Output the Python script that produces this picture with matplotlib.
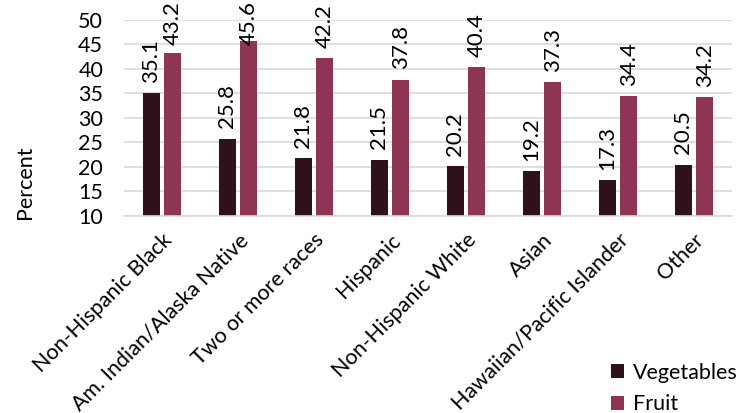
import numpy as np
import matplotlib.pyplot as plt

plt.rcParams['font.family'] = ['Lato', 'DejaVu Sans']

categories = ['Non-Hispanic Black', 'Am. Indian/Alaska Native', 'Two or more races',
              'Hispanic', 'Non-Hispanic White', 'Asian', 'Hawaiian/Pacific Islander', 'Other']
vegetables = [35.1, 25.8, 21.8, 21.5, 20.2, 19.2, 17.3, 20.5]
fruit = [43.2, 45.6, 42.2, 37.8, 40.4, 37.3, 34.4, 34.2]

veg_color = '#2E1119'
fruit_color = '#8E3556'

fig = plt.figure(figsize=(7.56, 4.13), dpi=100)
ax = fig.add_axes([0.164, 0.477, 0.804, 0.475])

x = np.arange(len(categories))
w = 0.224
off = 0.142
b1 = ax.bar(x - off, vegetables, w, bottom=0, color=veg_color, label='Vegetables')
b2 = ax.bar(x + off, fruit, w, bottom=0, color=fruit_color, label='Fruit')

# value labels above bars; pushed down when they would run off the top
for bars, vals in ((b1, vegetables), (b2, fruit)):
    for rect, v in zip(bars, vals):
        ax.text(rect.get_x() + rect.get_width() / 2, min(v + 2.1, 44.9), f'{v:.1f}',
                rotation=90, ha='center', va='bottom', fontsize=16, color='#000000',
                clip_on=False)

ax.set_ylim(10, 50)
ax.set_xlim(-0.5, len(categories) - 0.5)
ax.set_yticks(range(10, 51, 5))
ax.yaxis.grid(True, color='#D9D9D9', lw=1.2)
ax.set_axisbelow(True)
for s in ['top', 'right', 'left']:
    ax.spines[s].set_visible(False)
ax.spines['bottom'].set_color('#D9D9D9')
ax.spines['bottom'].set_linewidth(1.2)
ax.tick_params(axis='y', length=0, labelsize=15.5, pad=15)
ax.tick_params(axis='x', length=0, labelsize=15.5, pad=10)
ax.set_xticks(x)
ax.set_xticklabels(categories, rotation=45, ha='right', rotation_mode='anchor')
ax.set_ylabel('Percent', fontsize=15.5)
ax.yaxis.set_label_coords(-0.147, 0.173)

ax.legend(loc='lower right', bbox_to_anchor=(1.041, -1.11), frameon=False, fontsize=15.5,
          handlelength=0.6, handleheight=0.6, labelspacing=0.55, handletextpad=0.4)

fig.savefig('out.png', dpi=100)
